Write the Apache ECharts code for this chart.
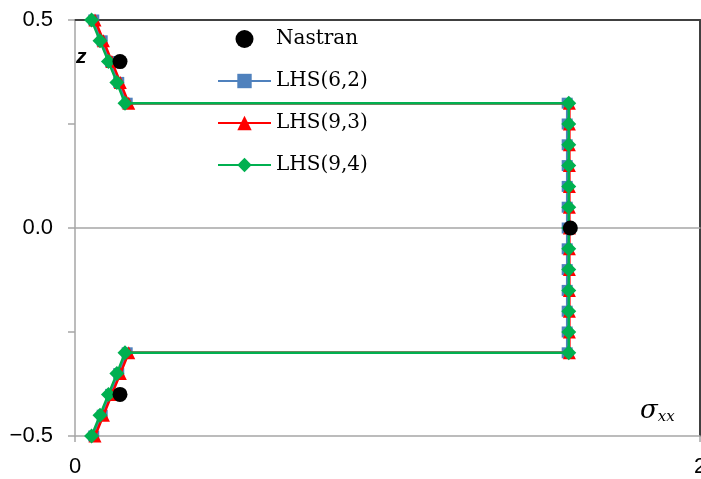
<!DOCTYPE html>
<html>
<head>
<meta charset="utf-8">
<script src="https://cdn.jsdelivr.net/npm/echarts@6/dist/echarts.min.js"></script>
<style>
  html, body { margin: 0; padding: 0; background: #ffffff; }
  #chart { width: 701px; height: 479px; }
</style>
</head>
<body>
<div id="chart"></div>
<script>
// Through-thickness positions z (top layer, core, bottom layer)
const zPositions = [0.5, 0.45, 0.4, 0.35, 0.3,
  0.3, 0.25, 0.2, 0.15, 0.1, 0.05, 0, -0.05, -0.1, -0.15, -0.2, -0.25, -0.3,
  -0.3, -0.35, -0.4, -0.45, -0.5];

// Stress sigma_xx for each theory at the positions above
const lhs62 = [0.060, 0.087, 0.114, 0.140, 0.167,
  1.575, 1.575, 1.575, 1.575, 1.575, 1.575, 1.575, 1.575, 1.575, 1.575, 1.575, 1.575, 1.575,
  0.167, 0.140, 0.114, 0.087, 0.060];
const lhs93 = [0.064, 0.091, 0.118, 0.145, 0.172,
  1.582, 1.582, 1.582, 1.582, 1.582, 1.582, 1.582, 1.582, 1.582, 1.582, 1.582, 1.582, 1.582,
  0.172, 0.145, 0.118, 0.091, 0.064];
const lhs94 = [0.053, 0.080, 0.107, 0.134, 0.160,
  1.580, 1.580, 1.580, 1.580, 1.580, 1.580, 1.580, 1.580, 1.580, 1.580, 1.580, 1.580, 1.580,
  0.160, 0.134, 0.107, 0.080, 0.053];

// Reference FEM solution
const nastranSigma = [0.144, 1.585, 0.144];
const nastranZ = [0.4, 0, -0.4];

const seriesNames = ['Nastran', 'LHS(6,2)', 'LHS(9,3)', 'LHS(9,4)'];
const xTicks = [0, 2];
const yTickLabels = { '0.5': '0.5', '0': '0.0', '-0.5': '\u22120.5' };

function pairs(xs, ys) {
  return xs.map((x, i) => [x, ys[i]]);
}

const axisGray = '#a6a6a6';
const frameDark = '#404040';

const chart = echarts.init(document.getElementById('chart'), null, { renderer: 'canvas' });

chart.setOption({
  animation: false,
  backgroundColor: '#ffffff',
  grid: { left: 75, right: 1, top: 20, bottom: 43, containLabel: false, outerBoundsMode: 'none' },
  legend: {
    orient: 'vertical',
    left: 212,
    top: 24,
    itemWidth: 53,
    itemHeight: 18,
    itemGap: 22,
    data: seriesNames,
    textStyle: { fontFamily: 'DejaVu Serif', fontSize: 20, color: '#000000' }
  },
  xAxis: [
    {
      type: 'value', min: xTicks[0], max: xTicks[1], interval: 2,
      position: 'bottom',
      axisLine: { onZero: false, lineStyle: { color: axisGray, width: 1.5 } },
      axisTick: { show: true, inside: false, length: 6, lineStyle: { color: axisGray, width: 1.5 } },
      axisLabel: { margin: 20, fontFamily: 'Liberation Sans', fontSize: 22, color: '#000000',
        formatter: v => String(v) },
      splitLine: { show: false }
    },
    {
      // zero line through the laminate mid-plane
      type: 'value', min: xTicks[0], max: xTicks[1], position: 'bottom',
      axisLine: { onZero: true, lineStyle: { color: axisGray, width: 1.5 } },
      axisTick: { show: false }, axisLabel: { show: false }, splitLine: { show: false }
    },
    {
      type: 'value', min: xTicks[0], max: xTicks[1], position: 'top',
      axisLine: { onZero: false, lineStyle: { color: frameDark, width: 2 } },
      axisTick: { show: false }, axisLabel: { show: false }, splitLine: { show: false }
    }
  ],
  yAxis: [
    {
      type: 'value', min: -0.5, max: 0.5, interval: 0.25,
      position: 'left',
      axisLine: { onZero: false, lineStyle: { color: axisGray, width: 1.5 } },
      axisTick: { show: true, inside: false, length: 7, lineStyle: { color: axisGray, width: 1.5 } },
      axisLabel: {
        margin: 22, fontFamily: 'Liberation Sans', fontSize: 22, color: '#000000',
        formatter: v => {
          const key = String(Math.round(v * 100) / 100);
          return yTickLabels[key] || '';
        }
      },
      splitLine: { show: false }
    },
    {
      type: 'value', min: -0.5, max: 0.5, position: 'right',
      axisLine: { onZero: false, lineStyle: { color: frameDark, width: 2 } },
      axisTick: { show: false }, axisLabel: { show: false }, splitLine: { show: false }
    }
  ],
  graphic: [
    {
      type: 'text', left: 76, top: 47,
      style: { text: 'z', fontFamily: 'Liberation Sans', fontStyle: 'italic', fontWeight: 'bold',
        fontSize: 21, fill: '#000000' }
    },
    {
      type: 'text', left: 640, top: 398,
      style: {
        text: '{s|\u03C3}{b|xx}',
        rich: {
          s: { fontFamily: 'DejaVu Serif', fontStyle: 'italic', fontSize: 26, fill: '#000000' },
          b: { fontFamily: 'DejaVu Serif', fontStyle: 'italic', fontSize: 15, fill: '#000000',
            padding: [12, 0, 0, 0] }
        }
      }
    }
  ],
  series: [
    {
      name: seriesNames[0], type: 'scatter', z: 6,
      symbol: 'circle', symbolSize: 15,
      itemStyle: { color: '#000000', opacity: 1 },
      data: pairs(nastranSigma, nastranZ)
    },
    {
      name: seriesNames[1], type: 'line', z: 3,
      symbol: 'rect', symbolSize: 11, showAllSymbol: true,
      lineStyle: { color: '#4f81bd', width: 2.5 },
      itemStyle: { color: '#4f81bd' },
      data: pairs(lhs62, zPositions)
    },
    {
      name: seriesNames[2], type: 'line', z: 4,
      symbol: 'triangle', symbolSize: 13, showAllSymbol: true,
      lineStyle: { color: '#ff0000', width: 2.5 },
      itemStyle: { color: '#ff0000' },
      data: pairs(lhs93, zPositions)
    },
    {
      name: seriesNames[3], type: 'line', z: 5,
      symbol: 'diamond', symbolSize: 15, showAllSymbol: true,
      lineStyle: { color: '#00b050', width: 2.5 },
      itemStyle: { color: '#00b050' },
      data: pairs(lhs94, zPositions)
    }
  ]
});
</script>
</body>
</html>
